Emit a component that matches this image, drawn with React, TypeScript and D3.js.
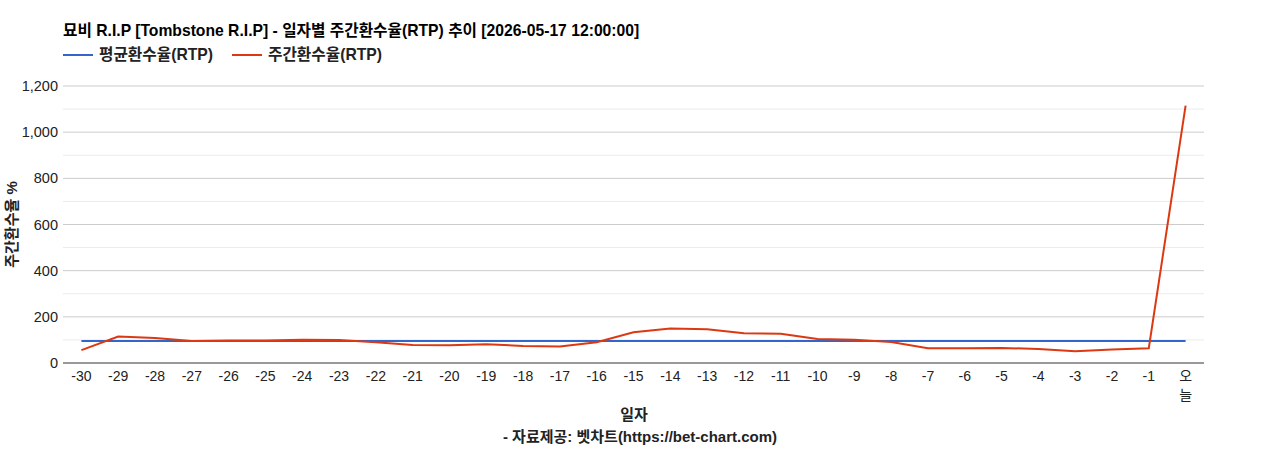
import React, { useEffect, useRef } from 'react';
import * as d3 from 'd3';

const days = ['-30', '-29', '-28', '-27', '-26', '-25', '-24', '-23', '-22', '-21', '-20', '-19', '-18', '-17', '-16',
  '-15', '-14', '-13', '-12', '-11', '-10', '-9', '-8', '-7', '-6', '-5', '-4', '-3', '-2', '-1', '오늘'];

const avgRtp = [95, 95, 95, 95, 95, 95, 95, 95, 95, 95, 95, 95, 95, 95, 95,
  95, 95, 95, 95, 95, 95, 95, 95, 95, 95, 95, 95, 95, 95, 95, 95];

const weeklyRtp = [56, 115, 108, 95, 98, 98, 101, 100, 90, 78, 77, 81, 74, 72, 90,
  133, 149, 146, 129, 127, 104, 101, 91, 64, 64, 65, 61, 51, 58, 64, 1115];

const yTicks = [0, 200, 400, 600, 800, 1000, 1200];
const yMinorTicks = [100, 300, 500, 700, 900, 1100];

const FONT = "Arial, 'Liberation Sans', 'Noto Sans CJK KR', sans-serif";

export default function App() {
  const svgRef = useRef<SVGSVGElement>(null);

  useEffect(() => {
    if (!svgRef.current) return;
    const svg = d3.select(svgRef.current);
    svg.selectAll('*').remove();

    const left = 63, right = 1204, top = 86, bottom = 363;

    const x = d3.scaleBand<string>().domain(days).range([left, right]);
    const cx = (d: string) => (x(d) as number) + x.bandwidth() / 2;
    const y = d3.scaleLinear().domain([0, 1200]).range([bottom, top]);

    // gridlines
    svg.append('g').selectAll('line').data(yMinorTicks).enter().append('line')
      .attr('x1', left).attr('x2', right)
      .attr('y1', d => y(d)).attr('y2', d => y(d))
      .attr('stroke', '#ebebeb').attr('stroke-width', 1);
    svg.append('g').selectAll('line').data(yTicks.filter(d => d > 0)).enter().append('line')
      .attr('x1', left).attr('x2', right)
      .attr('y1', d => y(d)).attr('y2', d => y(d))
      .attr('stroke', '#cccccc').attr('stroke-width', 1);

    // y tick labels
    svg.append('g').selectAll('text').data(yTicks).enter().append('text')
      .attr('x', left - 5).attr('y', d => y(d) + 5)
      .attr('text-anchor', 'end')
      .style('font-family', FONT).style('font-size', '14.5px').attr('fill', '#222')
      .text(d => d3.format(',')(d));

    // x tick labels ('오늘' wraps onto two lines)
    const xl = svg.append('g');
    days.forEach(d => {
      const parts = d === '오늘' ? ['오', '늘'] : [d];
      parts.forEach((p, i) => {
        xl.append('text').attr('x', cx(d)).attr('y', 381 + i * 19).attr('text-anchor', 'middle')
          .style('font-family', FONT).style('font-size', '14px').attr('fill', '#222').text(p);
      });
    });

    // lines
    const line = d3.line<number>()
      .x((_, i) => cx(days[i]))
      .y(v => y(v));

    svg.append('path').datum(avgRtp)
      .attr('fill', 'none').attr('stroke', '#3366cc').attr('stroke-width', 2)
      .attr('d', line);

    svg.append('path').datum(weeklyRtp)
      .attr('fill', 'none').attr('stroke', '#dc3912').attr('stroke-width', 2)
      .attr('d', line);

    // baseline
    svg.append('line').attr('x1', left).attr('x2', right)
      .attr('y1', y(0)).attr('y2', y(0))
      .attr('stroke', '#333').attr('stroke-width', 1);

    // title
    svg.append('text').attr('x', 63).attr('y', 36)
      .style('font-family', FONT).style('font-size', '15.7px').style('font-weight', 'bold').attr('fill', '#000')
      .text('묘비 R.I.P [Tombstone R.I.P] - 일자별 주간환수율(RTP) 추이 [2026-05-17 12:00:00]');

    // legend
    const legend = [
      { label: '평균환수율(RTP)', color: '#3366cc', x: 63 },
      { label: '주간환수율(RTP)', color: '#dc3912', x: 232 },
    ];
    legend.forEach(l => {
      svg.append('line').attr('x1', l.x).attr('x2', l.x + 30).attr('y1', 55).attr('y2', 55)
        .attr('stroke', l.color).attr('stroke-width', 2);
      svg.append('text').attr('x', l.x + 36).attr('y', 60)
        .style('font-family', FONT).style('font-size', '15.7px').style('font-weight', 'bold').attr('fill', '#222')
        .text(l.label);
    });

    // axis titles
    svg.append('text')
      .attr('transform', `translate(17,${(top + bottom) / 2}) rotate(-90)`)
      .attr('text-anchor', 'middle')
      .style('font-family', FONT).style('font-size', '15px').style('font-weight', 'bold').attr('fill', '#222')
      .text('주간환수율 %');

    svg.append('text').attr('x', 634).attr('y', 420).attr('text-anchor', 'middle')
      .style('font-family', FONT).style('font-size', '15px').style('font-weight', 'bold').attr('fill', '#222')
      .text('일자');

    svg.append('text').attr('x', 640).attr('y', 442).attr('text-anchor', 'middle')
      .style('font-family', FONT).style('font-size', '15px').style('font-weight', 'bold').attr('fill', '#222')
      .text('- 자료제공: 벳차트(https://bet-chart.com)');
  }, []);

  return (
    <svg ref={svgRef} width={1268} height={450}
      style={{ position: 'absolute', left: 0, top: 0, background: '#fff' }} />
  );
}
